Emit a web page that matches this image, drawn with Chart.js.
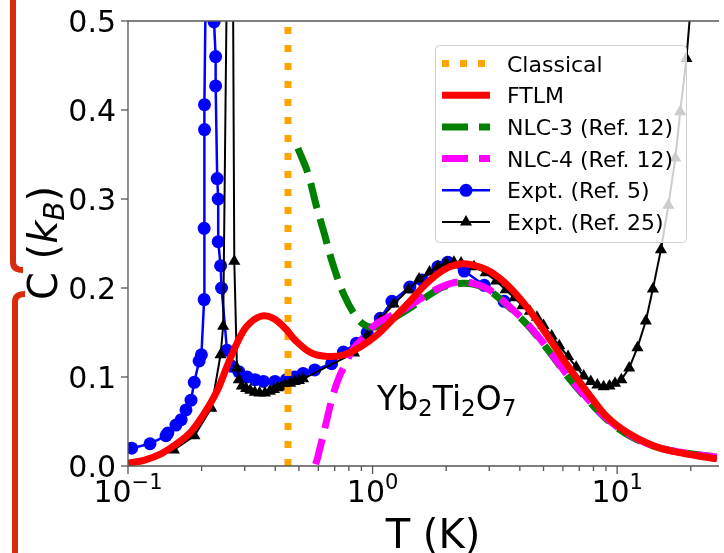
<!DOCTYPE html>
<html>
<head>
<meta charset="utf-8">
<script src="https://cdn.jsdelivr.net/npm/chart.js@4.4.0/dist/chart.umd.min.js"></script>
<style>
  html, body { margin: 0; padding: 0; background: #fff; }
</style>
</head>
<body>
<canvas id="heatChart" width="724" height="553"></canvas>
<script>
// Yb2Ti2O7 specific heat C (k_B) vs T (K), log T axis
const seriesLabels = ['Classical', 'FTLM', 'NLC-3 (Ref. 12)', 'NLC-4 (Ref. 12)', 'Expt. (Ref. 5)', 'Expt. (Ref. 25)'];

const classicalT = [0.451, 0.451];
const classicalC = [0, 0.5];

const ftlmT = [0.1, 0.117, 0.137, 0.159, 0.181, 0.205, 0.232, 0.254, 0.279, 0.306, 0.347, 0.393, 0.445, 0.48, 0.561, 0.655, 0.765, 0.893, 1.04, 1.22, 1.42, 1.66, 1.94, 2.26, 2.56, 3.0, 3.6, 4.35, 5.23, 6.3, 7.6, 9.1, 11.4, 15.0, 21.7, 25.6];
const ftlmC = [0.003, 0.0067, 0.014, 0.0255, 0.0385, 0.059, 0.085, 0.112, 0.138, 0.157, 0.168, 0.166, 0.153, 0.142, 0.127, 0.123, 0.125, 0.134, 0.147, 0.166, 0.185, 0.205, 0.220, 0.227, 0.226, 0.219, 0.202, 0.176, 0.145, 0.112, 0.082, 0.055, 0.035, 0.020, 0.011, 0.008];

const nlc3T = [0.495, 0.544, 0.588, 0.635, 0.686, 0.765, 0.866, 0.95, 1.05, 1.34, 1.66, 1.94, 2.26, 2.6, 3.0, 3.6, 4.35, 5.23, 6.3, 7.6, 9.1, 11.4, 15.0, 21.7, 25.6];
const nlc3C = [0.357, 0.329, 0.293, 0.261, 0.228, 0.192, 0.166, 0.157, 0.157, 0.173, 0.190, 0.201, 0.205, 0.204, 0.197, 0.179, 0.157, 0.130, 0.100, 0.074, 0.052, 0.033, 0.020, 0.0124, 0.0105];

const nlc4T = [0.585, 0.597, 0.635, 0.686, 0.73, 0.776, 0.826, 0.921, 1.04, 1.34, 1.66, 1.94, 2.26, 2.6, 3.0, 3.6, 4.35, 5.23, 6.3, 7.6, 9.1, 11.4, 15.0, 21.7, 25.6];
const nlc4C = [0.002, 0.010, 0.040, 0.078, 0.100, 0.115, 0.130, 0.145, 0.160, 0.176, 0.192, 0.202, 0.207, 0.205, 0.198, 0.180, 0.158, 0.131, 0.101, 0.075, 0.053, 0.034, 0.020, 0.0125, 0.010];

const ref5T = [0.1035, 0.123, 0.143, 0.1455, 0.157, 0.165, 0.1726, 0.181, 0.1866, 0.1954, 0.1996, 0.2048, 0.2048, 0.2055, 0.2055, 0.2095, 0.2248, 0.2282, 0.2282, 0.2316, 0.2338, 0.2338, 0.2392, 0.2413, 0.254, 0.266, 0.284, 0.307, 0.331, 0.358, 0.399, 0.444, 0.48, 0.52, 0.58, 0.68, 0.76, 0.86, 0.95, 1.075, 1.2, 1.42, 1.59, 1.85, 2.03, 2.37, 2.86, 3.45];
const ref5C = [0.020, 0.025, 0.034, 0.037, 0.046, 0.052, 0.063, 0.074, 0.094, 0.118, 0.125, 0.187, 0.267, 0.378, 0.406, 0.62, 0.499, 0.46, 0.427, 0.323, 0.300, 0.252, 0.225, 0.200, 0.130, 0.112, 0.106, 0.100, 0.097, 0.095, 0.095, 0.097, 0.100, 0.104, 0.108, 0.115, 0.128, 0.138, 0.150, 0.166, 0.185, 0.201, 0.209, 0.224, 0.229, 0.219, 0.203, 0.185];

const ref25T = [0.154, 0.187, 0.219, 0.239, 0.245, 0.264, 0.272, 0.279, 0.284, 0.292, 0.304, 0.316, 0.33, 0.345, 0.363, 0.38, 0.395, 0.41, 0.425, 0.44, 0.46, 0.48, 0.50, 0.52, 0.84, 0.95, 1.075, 1.22, 1.40, 1.55, 1.71, 1.85, 2.0, 2.15, 2.3, 2.6, 2.9, 3.2, 3.5, 3.8, 4.1, 4.4, 4.7, 5.0, 5.4, 5.8, 6.3, 6.8, 7.3, 7.8, 8.3, 8.8, 9.3, 9.8, 10.4, 11.2, 12.1, 13.1, 14.0, 15.1, 16.2, 17.3, 18.1, 19.2, 20.6];
const ref25C = [0.018, 0.034, 0.065, 0.125, 0.157, 1.0, 0.230, 0.110, 0.097, 0.090, 0.087, 0.085, 0.083, 0.082, 0.082, 0.084, 0.086, 0.088, 0.089, 0.091, 0.093, 0.095, 0.096, 0.098, 0.127, 0.146, 0.165, 0.182, 0.198, 0.210, 0.218, 0.224, 0.228, 0.229, 0.228, 0.224, 0.217, 0.208, 0.198, 0.189, 0.180, 0.174, 0.167, 0.158, 0.146, 0.135, 0.123, 0.111, 0.101, 0.095, 0.091, 0.089, 0.090, 0.093, 0.097, 0.110, 0.133, 0.163, 0.199, 0.243, 0.293, 0.346, 0.398, 0.458, 0.56];

const yTicks = [0, 0.1, 0.2, 0.3, 0.4, 0.5];
const xMajorTicks = [0.1, 1, 10];
const xMinorTicks = [0.2, 0.3, 0.4, 0.5, 0.6, 0.7, 0.8, 0.9, 2, 3, 4, 5, 6, 7, 8, 9, 20];

const FONT = "'DejaVu Sans', 'Liberation Sans', sans-serif";
const zip = (xs, ys) => xs.map((x, i) => ({ x: x, y: ys[i] }));

// text made of pieces (for sub/superscripts)
function runsWidth(ctx, runs) {
  let w = 0;
  runs.forEach(r => { ctx.font = (r.italic ? 'italic ' : '') + r.size + 'px ' + FONT; w += ctx.measureText(r.t).width; });
  return w;
}
function drawRuns(ctx, x, y, runs) {
  runs.forEach(r => {
    ctx.font = (r.italic ? 'italic ' : '') + r.size + 'px ' + FONT;
    ctx.fillText(r.t, x, y + (r.dy || 0));
    x += ctx.measureText(r.t).width;
  });
}

const decorPlugin = {
  id: 'decor',
  afterDraw(chart) {
    const ctx = chart.ctx;
    const area = chart.chartArea;
    const xs = chart.scales.x, ys = chart.scales.y;
    ctx.save();

    // red bracket marks at the far left
    ctx.strokeStyle = '#d92b0c';
    ctx.lineWidth = 6;
    ctx.lineCap = 'butt';
    ctx.beginPath();
    ctx.moveTo(13, -5); ctx.lineTo(13, 262); ctx.quadraticCurveTo(13, 270, 23, 270);
    ctx.stroke();
    ctx.beginPath();
    ctx.moveTo(25, 294); ctx.quadraticCurveTo(15, 294, 15, 302); ctx.lineTo(15, 560);
    ctx.stroke();

    // spines
    ctx.strokeStyle = '#555';
    ctx.lineWidth = 1.3;
    ctx.beginPath();
    ctx.moveTo(area.right + 2, area.top); ctx.lineTo(area.left, area.top);
    ctx.lineTo(area.left, area.bottom); ctx.lineTo(area.right + 2, area.bottom);
    ctx.stroke();

    // y ticks and labels
    ctx.fillStyle = '#000';
    ctx.textAlign = 'right';
    ctx.textBaseline = 'alphabetic';
    ctx.font = '30px ' + FONT;
    yTicks.forEach(v => {
      const py = ys.getPixelForValue(v);
      ctx.beginPath(); ctx.moveTo(area.left - 7, py); ctx.lineTo(area.left, py); ctx.stroke();
      ctx.fillText(v.toFixed(1), area.left - 12, py + 11);
    });

    // x ticks and labels
    ctx.textAlign = 'left';
    xMinorTicks.forEach(v => {
      const px = xs.getPixelForValue(v);
      ctx.beginPath(); ctx.moveTo(px, area.bottom); ctx.lineTo(px, area.bottom + 5); ctx.stroke();
    });
    xMajorTicks.forEach(v => {
      const px = xs.getPixelForValue(v);
      ctx.beginPath(); ctx.moveTo(px, area.bottom); ctx.lineTo(px, area.bottom + 8); ctx.stroke();
      const e = Math.round(Math.log10(v));
      const runs = [{ t: '10', size: 30 }, { t: e < 0 ? '\u2212' + (-e) : String(e), size: 21, dy: -13 }];
      const w = runsWidth(ctx, runs);
      drawRuns(ctx, px - w / 2, area.bottom + 36, runs);
    });

    // axis titles
    const tRuns = [{ t: 'T (K)', size: 40 }];
    drawRuns(ctx, 433 - runsWidth(ctx, tRuns) / 2, 548, tRuns);

    ctx.save();
    ctx.translate(57, 243);
    ctx.rotate(-Math.PI / 2);
    const cRuns = [{ t: 'C (', size: 40 }, { t: 'k', size: 40, italic: true }, { t: 'B', size: 28, italic: true, dy: 7 }, { t: ')', size: 40 }];
    drawRuns(ctx, -runsWidth(ctx, cRuns) / 2, 0, cRuns);
    ctx.restore();

    // compound label
    drawRuns(ctx, 377, 410, [
      { t: 'Yb', size: 33 }, { t: '2', size: 23, dy: 6 },
      { t: 'Ti', size: 33 }, { t: '2', size: 23, dy: 6 },
      { t: 'O', size: 33 }, { t: '7', size: 23, dy: 6 }
    ]);

    // legend
    const lx = 435.5, ly = 45.5, lw = 251, lh = 197;
    ctx.beginPath();
    ctx.roundRect(lx, ly, lw, lh, 4);
    ctx.fillStyle = 'rgba(255,255,255,0.8)';
    ctx.fill();
    ctx.strokeStyle = '#d0d0d0';
    ctx.lineWidth = 1;
    ctx.stroke();

    chart.data.datasets.forEach((ds, i) => {
      const y = 63.5 + i * 31.7;
      const x0 = 442, x1 = 490;
      ctx.save();
      ctx.strokeStyle = ds.borderColor;
      ctx.lineWidth = ds.borderWidth;
      ctx.setLineDash(ds.borderDash || []);
      ctx.beginPath(); ctx.moveTo(x0, y); ctx.lineTo(x1, y); ctx.stroke();
      ctx.setLineDash([]);
      ctx.fillStyle = ds.borderColor;
      const cx = (x0 + x1) / 2, r = ds.pointRadius;
      if (r && ds.pointStyle === 'circle') {
        ctx.beginPath(); ctx.arc(cx, y, r, 0, Math.PI * 2); ctx.fill();
      } else if (r && ds.pointStyle === 'triangle') {
        ctx.beginPath();
        ctx.moveTo(cx, y - r); ctx.lineTo(cx + r * 0.866, y + r / 2); ctx.lineTo(cx - r * 0.866, y + r / 2);
        ctx.closePath(); ctx.fill();
      }
      ctx.restore();
      ctx.fillStyle = '#000';
      ctx.font = '22px ' + FONT;
      ctx.fillText(ds.label, 507, y + 8);
    });

    ctx.restore();
  }
};

new Chart(document.getElementById('heatChart').getContext('2d'), {
  type: 'scatter',
  data: {
    datasets: [
      {
        label: seriesLabels[0], data: zip(classicalT, classicalC), order: 3,
        borderColor: '#ffa500', borderWidth: 7, borderDash: [7, 11], borderCapStyle: 'butt',
        showLine: true, pointRadius: 0, clip: 0
      },
      {
        label: seriesLabels[1], data: zip(ftlmT, ftlmC), order: 0,
        borderColor: '#ff0000', borderWidth: 7, tension: 0.35,
        showLine: true, pointRadius: 0, clip: 0
      },
      {
        label: seriesLabels[2], data: zip(nlc3T, nlc3C), order: 2,
        borderColor: '#008000', borderWidth: 7, borderDash: [26, 11], tension: 0.35,
        showLine: true, pointRadius: 0, clip: 0
      },
      {
        label: seriesLabels[3], data: zip(nlc4T, nlc4C), order: 1,
        borderColor: '#ff00ff', borderWidth: 7, borderDash: [26, 11], tension: 0.35,
        showLine: true, pointRadius: 0, clip: 0
      },
      {
        label: seriesLabels[4], data: zip(ref5T, ref5C), order: 5,
        borderColor: '#0000ff', backgroundColor: '#0000ff', borderWidth: 2.5,
        showLine: true, pointStyle: 'circle', pointRadius: 6.5, pointBorderWidth: 0, clip: 0
      },
      {
        label: seriesLabels[5], data: zip(ref25T, ref25C), order: 4,
        borderColor: '#000000', backgroundColor: '#000000', borderWidth: 2,
        showLine: true, pointStyle: 'triangle', pointRadius: 7, pointBorderWidth: 0, clip: 0
      }
    ]
  },
  options: {
    responsive: false,
    animation: false,
    devicePixelRatio: 1,
    layout: { padding: { top: 21, right: 0, left: 0, bottom: 0 } },
    plugins: { legend: { display: false }, tooltip: { enabled: false } },
    scales: {
      x: {
        type: 'logarithmic', min: 0.1, max: 25.6,
        grid: { display: false }, border: { display: false },
        ticks: { display: false },
        afterFit: (scale) => { scale.height = 87; }
      },
      y: {
        type: 'linear', min: 0, max: 0.5,
        grid: { display: false }, border: { display: false },
        ticks: { display: false },
        afterFit: (scale) => { scale.width = 128; }
      }
    }
  },
  plugins: [decorPlugin]
});
</script>
</body>
</html>
